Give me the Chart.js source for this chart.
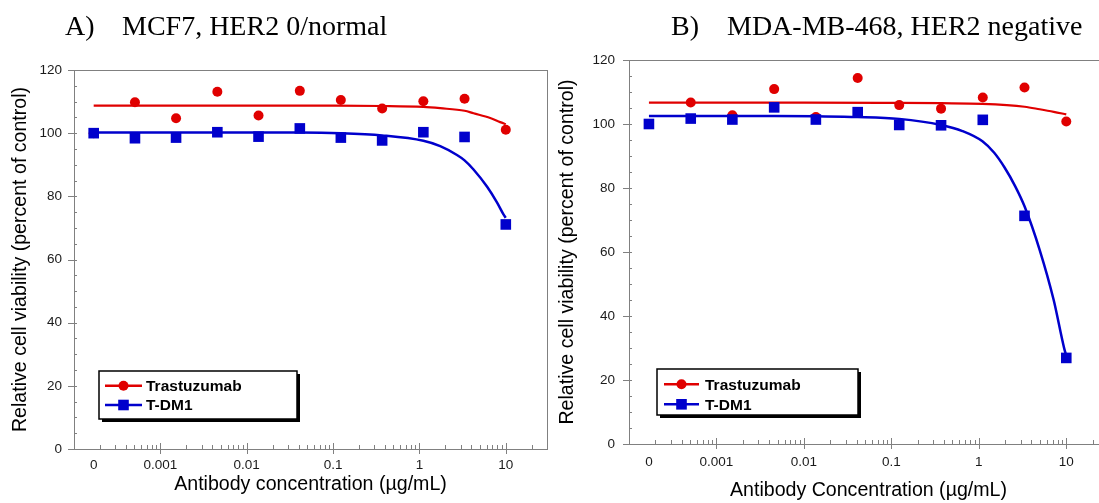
<!DOCTYPE html>
<html>
<head>
<meta charset="utf-8">
<script src="https://cdn.jsdelivr.net/npm/chart.js@4.4.1/dist/chart.umd.min.js"></script>
<style>
    html, body { margin: 0; padding: 0; background: #fff; }
    body { width: 1099px; height: 503px; overflow: hidden; position: relative; }
    .panel { position: absolute; top: 0; height: 503px; }
    #panel_a { left: 0; width: 550px; }
    #panel_b { left: 550px; width: 560px; }
</style>
</head>
<body>
<div class="panel" id="panel_a"><canvas id="chart_a"></canvas></div>
<div class="panel" id="panel_b"><canvas id="chart_b"></canvas></div>
<script>
// antibody concentrations (3-fold dilutions), the lowest one is labelled "0"
const conc = [0.000169, 0.000508, 0.00152, 0.00457, 0.0137, 0.0412, 0.123, 0.370, 1.11, 3.33, 10];

const x_tick_values = [0.000169, 0.001, 0.01, 0.1, 1, 10];
const x_tick_labels = ['0', '0.001', '0.01', '0.1', '1', '10'];

// A) MCF7
const a_trastuzumab = [100, 109.8, 104.7, 113.1, 105.6, 113.4, 110.5, 107.8, 110.1, 110.9, 101.1];
const a_tdm1 = [100.0, 98.4, 98.6, 100.3, 98.9, 101.5, 98.6, 97.7, 100.3, 98.8, 71.1];

const a_trastuzumab_fit_x = [0.000169, 0.01, 0.1, 0.37, 1.11, 1.74, 3.33, 4.23, 6.6, 8.6, 10];
const a_trastuzumab_fit_y = [108.7, 108.7, 108.7, 108.6, 108.3, 107.9, 107.1, 106.3, 104.8, 103.5, 102.8];
const a_tdm1_fit_x = [0.000169, 0.01, 0.041, 0.123, 0.37, 1.11, 1.74, 2.72, 3.33, 4.23, 6.05, 7.9, 9.4, 10];
const a_tdm1_fit_y = [100.2, 100.2, 100.2, 100.0, 99.3, 97.6, 95.9, 93.1, 91.4, 88.5, 83.1, 78.1, 74.3, 73.2];

// B) MDA-MB-468
const b_trastuzumab = [100, 106.7, 102.7, 110.9, 102.2, 114.4, 105.9, 104.8, 108.3, 111.4, 100.8];
const b_tdm1 = [100.0, 101.7, 101.4, 105.2, 101.4, 103.7, 99.7, 99.6, 101.3, 71.3, 26.9];

const b_trastuzumab_fit_x = [0.000169, 0.01, 0.1, 0.37, 1.1, 3.34, 4.97, 7.19, 10];
const b_trastuzumab_fit_y = [106.7, 106.7, 106.6, 106.5, 106.3, 105.4, 104.6, 103.8, 103.0];
const b_tdm1_fit_x = [0.000169, 0.00457, 0.0137, 0.041, 0.123, 0.37, 0.65, 1.1, 1.5, 1.97, 2.6, 3.34, 4.97, 7.19, 9.48, 10];
const b_tdm1_fit_y = [102.5, 102.5, 102.4, 102.2, 101.6, 99.7, 97.8, 94.6, 91.0, 86.4, 80.6, 74.2, 60.6, 44.9, 29.8, 27.6];

const RED = '#e00000';
const BLUE = '#0000cc';
const AXIS_GREY = '#808080';
const SANS = '"Liberation Sans", Arial, sans-serif';

Chart.defaults.font.family = SANS;
Chart.defaults.color = '#1a1a1a';

function pairs(xs, ys) {
    return xs.map((x, i) => ({x: x, y: ys[i]}));
}

// frame plus ticks: majors stick out, minors point inward
const axisMarks = {
    id: 'axisMarks',
    beforeDatasetsDraw(chart) {
        const {ctx, chartArea: a, scales: {x, y}} = chart;
        ctx.save();
        ctx.strokeStyle = AXIS_GREY;
        ctx.lineWidth = 1;
        ctx.strokeRect(Math.round(a.left) + 0.5, Math.round(a.top) + 0.5,
            Math.round(a.right - a.left), Math.round(a.bottom - a.top));
        ctx.beginPath();
        for (let v = y.min; v <= y.max; v += 5) {
            const py = Math.round(y.getPixelForValue(v)) + 0.5;
            const major = v % 20 === 0;
            ctx.moveTo(a.left - (major ? 6 : 0), py);
            ctx.lineTo(a.left + 3, py);
        }
        for (let e = -4; e <= 1; e++) {
            for (let k = 1; k <= 9; k++) {
                const v = k * Math.pow(10, e);
                if (v <= x.min || v > x.max) continue;
                const px = Math.round(x.getPixelForValue(v)) + 0.5;
                ctx.moveTo(px, a.bottom + (k === 1 ? 5 : 0));
                ctx.lineTo(px, a.bottom - (k === 1 ? 6 : 4));
            }
        }
        ctx.stroke();
        ctx.restore();
    }
};

const heading = {
    id: 'heading',
    afterDraw(chart, args, opts) {
        const ctx = chart.ctx;
        ctx.save();
        ctx.font = '28px "Liberation Serif", "Times New Roman", serif';
        ctx.fillStyle = '#000';
        ctx.textBaseline = 'alphabetic';
        ctx.fillText(opts.tag, opts.tagX, opts.y);
        ctx.fillText(opts.text, opts.textX, opts.y);
        ctx.restore();
    }
};

const boxLegend = {
    id: 'boxLegend',
    afterDraw(chart, args, opts) {
        const ctx = chart.ctx;
        const items = chart.data.datasets.filter(d => d.legendText);
        ctx.save();
        ctx.fillStyle = '#000';
        ctx.fillRect(opts.left + 3, opts.top + 3, opts.width, opts.height);
        ctx.fillStyle = '#fff';
        ctx.fillRect(opts.left, opts.top, opts.width, opts.height);
        ctx.strokeStyle = '#000';
        ctx.lineWidth = 1.5;
        ctx.strokeRect(opts.left, opts.top, opts.width, opts.height);

        items.forEach((d, i) => {
            const ry = opts.rows[i];
            const mx = (opts.lineFrom + opts.lineTo) / 2;
            ctx.strokeStyle = d.backgroundColor;
            ctx.lineWidth = 2.5;
            ctx.beginPath();
            ctx.moveTo(opts.lineFrom, ry);
            ctx.lineTo(opts.lineTo, ry);
            ctx.stroke();
            ctx.fillStyle = d.backgroundColor;
            if (d.pointStyle === 'rect') {
                ctx.fillRect(mx - 5.3, ry - 5.3, 10.6, 10.6);
            } else {
                ctx.beginPath();
                ctx.arc(mx, ry, 5, 0, Math.PI * 2);
                ctx.fill();
            }
            ctx.fillStyle = '#000';
            ctx.font = 'bold 15.5px ' + SANS;
            ctx.textBaseline = 'middle';
            ctx.fillText(d.legendText, opts.textX, ry + 1);
        });
        ctx.restore();
    }
};

function make_panel(canvas_id, p) {
    const ctx = document.getElementById(canvas_id);
    return new Chart(ctx, {
        type: 'scatter',
        data: {
            datasets: [
                {
                    data: pairs(p.red_fit_x, p.red_fit_y),
                    showLine: true,
                    cubicInterpolationMode: 'monotone',
                    borderColor: RED,
                    borderWidth: 2.2,
                    pointRadius: 0,
                    order: 3,
                },
                {
                    data: pairs(p.blue_fit_x, p.blue_fit_y),
                    showLine: true,
                    cubicInterpolationMode: 'monotone',
                    borderColor: BLUE,
                    borderWidth: 2.5,
                    pointRadius: 0,
                    order: 2,
                },
                {
                    legendText: 'Trastuzumab',
                    data: pairs(conc, p.red),
                    pointStyle: 'circle',
                    pointRadius: 5,
                    backgroundColor: RED,
                    borderWidth: 0,
                    order: 1,
                },
                {
                    legendText: 'T-DM1',
                    data: pairs(conc, p.blue),
                    pointStyle: 'rect',
                    pointRadius: 7.5,
                    backgroundColor: BLUE,
                    borderWidth: 0,
                    order: 0,
                },
            ]
        },
        options: {
            responsive: true,
            maintainAspectRatio: false,
            animation: false,
            clip: false,
            layout: {
                autoPadding: false,
                padding: {top: p.pad_top, right: p.pad_right, left: 0, bottom: 0}
            },
            scales: {
                x: {
                    type: 'logarithmic',
                    min: 1e-4,
                    max: 30,
                    grid: {display: false, drawTicks: false, tickLength: 0},
                    border: {display: false},
                    afterBuildTicks: (scale) => {
                        scale.ticks = x_tick_values.map(v => ({value: v}));
                    },
                    afterFit: (scale) => { scale.height = p.x_height; },
                    ticks: {
                        autoSkip: false,
                        maxRotation: 0,
                        padding: p.x_tick_pad,
                        font: {size: 13.5},
                        callback: (v, i) => x_tick_labels[i],
                    },
                    title: {
                        display: true,
                        text: p.x_title,
                        font: {size: 19.6},
                        color: '#000',
                        padding: {top: 0, bottom: p.x_title_pad},
                    },
                },
                y: {
                    min: 0,
                    max: 120,
                    grid: {display: false, drawTicks: false, tickLength: 0},
                    border: {display: false},
                    afterFit: (scale) => { scale.width = p.y_width; },
                    ticks: {
                        stepSize: 20,
                        padding: p.y_tick_pad,
                        font: {size: 13.5},
                    },
                    title: {
                        display: true,
                        text: 'Relative cell viability (percent of control)',
                        font: {size: 19.6},
                        color: '#000',
                        padding: {top: p.y_title_pad, bottom: 0},
                    },
                },
            },
            plugins: {
                legend: {display: false},
                tooltip: {enabled: false},
                heading: p.heading,
                boxLegend: p.legend,
            }
        },
        plugins: [axisMarks, heading, boxLegend]
    });
}

make_panel('chart_a', {
    red: a_trastuzumab, blue: a_tdm1,
    red_fit_x: a_trastuzumab_fit_x, red_fit_y: a_trastuzumab_fit_y,
    blue_fit_x: a_tdm1_fit_x, blue_fit_y: a_tdm1_fit_y,
    x_title: 'Antibody concentration (\u00b5g/mL)',
    pad_top: 70, pad_right: 3, y_width: 74, x_height: 54,
    x_tick_pad: 8, y_tick_pad: 12, x_title_pad: 7, y_title_pad: 9,
    heading: {tag: 'A)', text: 'MCF7, HER2 0/normal', tagX: 65, textX: 122, y: 35},
    legend: {left: 99, top: 371, width: 198, height: 48, rows: [385.7, 405],
             lineFrom: 105, lineTo: 142, textX: 146},
});

make_panel('chart_b', {
    red: b_trastuzumab, blue: b_tdm1,
    red_fit_x: b_trastuzumab_fit_x, red_fit_y: b_trastuzumab_fit_y,
    blue_fit_x: b_tdm1_fit_x, blue_fit_y: b_tdm1_fit_y,
    x_title: 'Antibody Concentration (\u00b5g/mL)',
    pad_top: 60, pad_right: 2, y_width: 79, x_height: 59,
    x_tick_pad: 10, y_tick_pad: 14, x_title_pad: 1, y_title_pad: 6,
    heading: {tag: 'B)', text: 'MDA-MB-468, HER2 negative', tagX: 121, textX: 177, y: 35},
    legend: {left: 107, top: 369, width: 201, height: 46, rows: [384.3, 404.3],
             lineFrom: 114, lineTo: 149, textX: 155},
});
</script>
</body>
</html>
